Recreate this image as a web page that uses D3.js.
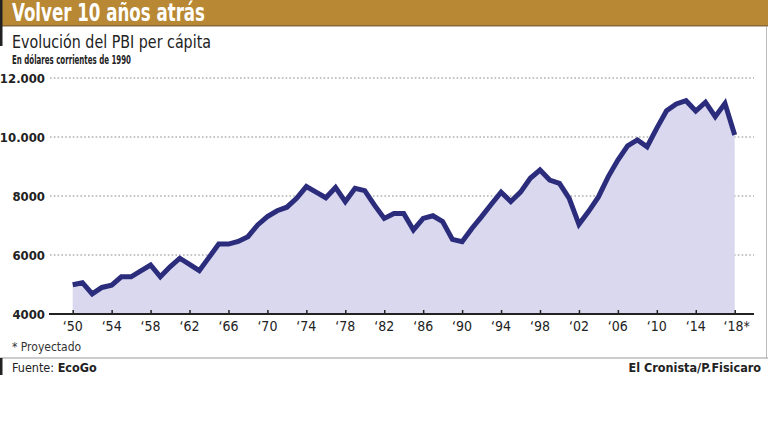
<!DOCTYPE html>
<html>
<head>
<meta charset="utf-8">
<script src="https://cdn.jsdelivr.net/npm/d3@7"></script>
<style>
  body { margin: 0; background: #fff; }
  svg { display: block; font-family: "Liberation Sans Narrow", "DejaVu Sans Condensed", "Arial Narrow", sans-serif; }
</style>
</head>
<body>
<svg id="chart"></svg>
<script>
// PBI per cápita, dólares de 1990 (2018 proyectado)
const years = d3.range(1950, 2019);
const values = [
  4990, 5060, 4680, 4900, 4980, 5260, 5260, 5460, 5660, 5260,
  5600, 5890, 5680, 5470, 5920, 6370, 6370, 6460, 6620, 7020,
  7300, 7500, 7620, 7920, 8320, 8130, 7940, 8290, 7810, 8260,
  8180, 7690, 7240, 7410, 7410, 6850, 7240, 7330, 7130, 6530,
  6450, 6900, 7300, 7720, 8130, 7810, 8130, 8600, 8880, 8540,
  8430, 7920, 7040, 7480, 7970, 8650, 9220, 9700, 9900, 9670,
  10300, 10890, 11120, 11230, 10880, 11180, 10690, 11140, 10070
];
const yTicks = [4000, 6000, 8000, 10000, 12000];
const yTickLabels = ['4000', '6000', '8000', '10.000', '12.000'];
const xTicks = d3.range(1950, 2019, 4);
const xTickLabels = ['\u201850', '\u201854', '\u201858', '\u201862', '\u201866', '\u201870', '\u201874', '\u201878', '\u201882',
  '\u201886', '\u201890', '\u201894', '\u201898', '\u201802', '\u201806', '\u201810', '\u201814', '\u201818*'];

const data = years.map((yr, i) => ({year: yr, value: values[i]}));

const width = 768, height = 432;
const svg = d3.select('#chart').attr('width', width).attr('height', height);

// header band
svg.append('rect').attr('x', 0).attr('y', 0).attr('width', width).attr('height', 26).attr('fill', '#b88834');
svg.append('rect').attr('x', 0).attr('y', 25).attr('width', width).attr('height', 1.5).attr('fill', '#8a6a3a');
svg.append('rect').attr('x', 0).attr('y', 0).attr('width', 2.5).attr('height', 46).attr('fill', '#222');
svg.append('text').attr('x', 12).attr('y', 21)
  .attr('fill', '#fff').attr('font-size', 24).attr('font-weight', 'bold')
  .attr('textLength', 193).attr('lengthAdjust', 'spacingAndGlyphs')
  .text('Volver 10 años atrás');

svg.append('text').attr('x', 12).attr('y', 48)
  .attr('fill', '#222').attr('font-size', 18)
  .attr('textLength', 199).attr('lengthAdjust', 'spacingAndGlyphs')
  .text('Evolución del PBI per cápita');
svg.append('text').attr('x', 12).attr('y', 64)
  .attr('fill', '#222').attr('font-size', 12.5).attr('font-weight', 600)
  .attr('textLength', 119).attr('lengthAdjust', 'spacingAndGlyphs')
  .text('En dólares corrientes de 1990');

// frame lines
svg.append('line').attr('x1', 766.5).attr('x2', 766.5).attr('y1', 27).attr('y2', 358)
  .attr('stroke', '#bbb').attr('stroke-width', 1);
svg.append('line').attr('x1', 0).attr('x2', width).attr('y1', 358).attr('y2', 358)
  .attr('stroke', '#999').attr('stroke-width', 1);
svg.append('rect').attr('x', 0).attr('y', 358).attr('width', 2.5).attr('height', 17).attr('fill', '#222');

const x = d3.scaleLinear().domain([1950, 2018]).range([72.7, 734.7]);
const y = d3.scaleLinear().domain([4000, 12000]).range([314, 78]);

// gridlines
svg.append('g').selectAll('line').data(yTicks.slice(1)).join('line')
  .attr('x1', 50).attr('x2', 754)
  .attr('y1', d => y(d)).attr('y2', d => y(d))
  .attr('stroke', '#888').attr('stroke-width', 1.2).attr('stroke-dasharray', '1.6,2.2');

// y labels
svg.append('g').selectAll('text').data(yTicks).join('text')
  .attr('x', 45).attr('y', d => y(d) + 4.5)
  .attr('text-anchor', 'end').attr('font-size', 13).attr('font-weight', 600).attr('fill', '#222')
  .text((d, i) => yTickLabels[i]);

// area + line
const area = d3.area().x(d => x(d.year)).y0(y(4000)).y1(d => y(d.value));
const line = d3.line().x(d => x(d.year)).y(d => y(d.value));
svg.append('path').datum(data).attr('d', area).attr('fill', '#d9d8ee');
svg.append('path').datum(data).attr('d', line)
  .attr('fill', 'none').attr('stroke', '#2b2c7c').attr('stroke-width', 5)
  .attr('stroke-linejoin', 'miter').attr('stroke-miterlimit', 3);

// x axis
const xAxis = d3.axisTop(x).tickValues(xTicks).tickSize(4).tickSizeOuter(0).tickFormat(() => '');
const gx = svg.append('g').attr('transform', `translate(0,${y(4000)})`).call(xAxis);
gx.select('.domain').remove();
gx.selectAll('.tick line').attr('stroke', '#222').attr('stroke-width', 1.5);
svg.append('line').attr('x1', 49).attr('x2', 754).attr('y1', y(4000)).attr('y2', y(4000))
  .attr('stroke', '#222').attr('stroke-width', 2);
svg.append('g').selectAll('text').data(xTicks).join('text')
  .attr('x', d => x(d) + (d === 2018 ? 2 : 0)).attr('y', 331)
  .attr('text-anchor', 'middle').attr('font-size', 14).attr('fill', '#222')
  .text((d, i) => xTickLabels[i]);

// notes
svg.append('text').attr('x', 12).attr('y', 351).attr('font-size', 12).attr('fill', '#333')
  .text('* Proyectado');
const src = svg.append('text').attr('x', 12).attr('y', 372).attr('font-size', 12.5).attr('fill', '#222');
src.append('tspan').text('Fuente: ');
src.append('tspan').attr('font-weight', 'bold').text('EcoGo');
svg.append('text').attr('x', 761).attr('y', 372).attr('text-anchor', 'end')
  .attr('font-size', 12.5).attr('font-weight', 'bold').attr('fill', '#222')
  .text('El Cronista/P.Fisicaro');
</script>
</body>
</html>
